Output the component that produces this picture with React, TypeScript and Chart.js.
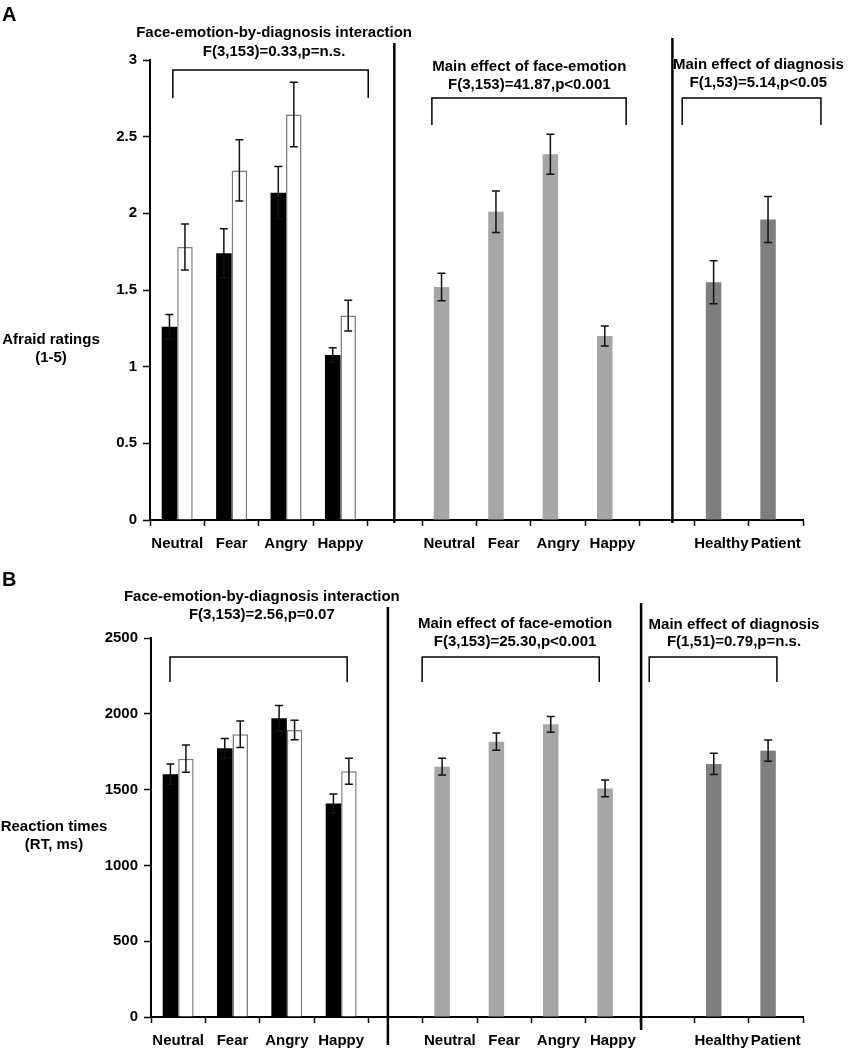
import React, { useEffect, useRef } from 'react';
import { Chart, registerables } from 'chart.js';

Chart.register(...registerables);

const FONT = '"Liberation Sans", Arial, Helvetica, sans-serif';

// ---------- shared categories ----------
const categories = ['Neutral', 'Fear', 'Angry', 'Happy', '', 'Neutral', 'Fear', 'Angry', 'Happy', '', 'Healthy', 'Patient'];

// ---------- Panel A: Afraid ratings (1-5) ----------
const yTicksA = [0, 0.5, 1, 1.5, 2, 2.5, 3];
const healthyA = [1.26, 1.74, 2.135, 1.076];
const healthyErrA = [0.08, 0.16, 0.17, 0.048];
const patientA = [1.78, 2.28, 2.645, 1.333];
const patientErrA = [0.15, 0.2, 0.21, 0.1];
const emotionA = [1.52, 2.01, 2.385, 1.2];
const emotionErrA = [0.09, 0.135, 0.13, 0.065];
const diagnosisA = [1.55, 1.96];
const diagnosisErrA = [0.14, 0.15];

// ---------- Panel B: Reaction times (RT, ms) ----------
const yTicksB = [0, 500, 1000, 1500, 2000, 2500];
const healthyB = [1601, 1772, 1970, 1409];
const healthyErrB = [68, 65, 85, 62];
const patientB = [1704, 1865, 1893, 1621];
const patientErrB = [90, 87, 64, 85];
const emotionB = [1651, 1816, 1931, 1508];
const emotionErrB = [55, 57, 52, 55];
const diagnosisB = [1669, 1757];
const diagnosisErrB = [70, 70];

const BLACK = '#000000';
const EMOTION_GRAY = '#a6a6a6';
const DIAG_GRAY = '#7f7f7f';

type Note = { lines: string[]; cx: number; y: number[] };
type Bracket = { x0: number; x1: number; top: number; bottom: number };
type Divider = { x: number; top: number; bottom: number };

type PanelSpec = {
  letter: string;
  letterY: number;
  yTitle: string[];
  yTitleX: number;
  yTitleY: number[];
  height: number;
  top: number;
  chartTop: number;
  chartBottom: number;
  left: number;
  right: number;
  yMax: number;
  yTicks: number[];
  healthy: number[];
  healthyErr: number[];
  patient: number[];
  patientErr: number[];
  emotion: number[];
  emotionErr: number[];
  diagnosis: number[];
  diagnosisErr: number[];
  notes: Note[];
  brackets: Bracket[];
  dividers: Divider[];
};

const W = 852;

const panelA: PanelSpec = {
  letter: 'A',
  letterY: 15,
  yTitle: ['Afraid ratings', '(1-5)'],
  yTitleX: 51,
  yTitleY: [340, 358],
  height: 560,
  top: 0,
  chartTop: 60,
  chartBottom: 520,
  left: 150,
  right: 803,
  yMax: 3,
  yTicks: yTicksA,
  healthy: healthyA,
  healthyErr: healthyErrA,
  patient: patientA,
  patientErr: patientErrA,
  emotion: emotionA,
  emotionErr: emotionErrA,
  diagnosis: diagnosisA,
  diagnosisErr: diagnosisErrA,
  notes: [
    { lines: ['Face-emotion-by-diagnosis interaction', 'F(3,153)=0.33,p=n.s.'], cx: 1.78, y: [33, 52] },
    { lines: ['Main effect of face-emotion', 'F(3,153)=41.87,p<0.001'], cx: 6.47, y: [67, 85] },
    { lines: ['Main effect of diagnosis', 'F(1,53)=5.14,p<0.05'], cx: 10.68, y: [65, 83] },
  ],
  brackets: [
    { x0: -0.08, x1: 3.51, top: 70, bottom: 98 },
    { x0: 4.68, x1: 8.25, top: 98, bottom: 125 },
    { x0: 9.28, x1: 11.83, top: 98, bottom: 125 },
  ],
  dividers: [
    { x: 3.99, top: 43, bottom: 523 },
    { x: 9.1, top: 38, bottom: 523 },
  ],
};

const panelB: PanelSpec = {
  letter: 'B',
  letterY: 20,
  yTitle: ['Reaction times', '(RT, ms)'],
  yTitleX: 54,
  yTitleY: [267, 285],
  height: 490,
  top: 560,
  chartTop: 78,
  chartBottom: 457,
  left: 151,
  right: 803,
  yMax: 2500,
  yTicks: yTicksB,
  healthy: healthyB,
  healthyErr: healthyErrB,
  patient: patientB,
  patientErr: patientErrB,
  emotion: emotionB,
  emotionErr: emotionErrB,
  diagnosis: diagnosisB,
  diagnosisErr: diagnosisErrB,
  notes: [
    { lines: ['Face-emotion-by-diagnosis interaction', 'F(3,153)=2.56,p=0.07'], cx: 1.54, y: [37, 55] },
    { lines: ['Main effect of face-emotion', 'F(3,153)=25.30,p<0.001'], cx: 6.2, y: [64, 82] },
    { lines: ['Main effect of diagnosis', 'F(1,51)=0.79,p=n.s.'], cx: 10.23, y: [65, 82] },
  ],
  brackets: [
    { x0: -0.15, x1: 3.11, top: 97, bottom: 122 },
    { x0: 4.49, x1: 7.75, top: 97, bottom: 122 },
    { x0: 8.67, x1: 11.02, top: 97, bottom: 122 },
  ],
  dividers: [
    { x: 3.86, top: 47, bottom: 485 },
    { x: 8.52, top: 43, bottom: 470 },
  ],
};

function Panel({ spec }: { spec: PanelSpec }) {
  const ref = useRef<HTMLCanvasElement | null>(null);

  useEffect(() => {
    const canvas = ref.current;
    if (!canvas) return;
    const pad = [null];
    const rest = new Array(categories.length - spec.patient.length).fill(null);
    const d0 = [...spec.healthy, ...pad, ...spec.emotion, ...pad, ...spec.diagnosis];
    const e0 = [...spec.healthyErr, ...pad, ...spec.emotionErr, ...pad, ...spec.diagnosisErr];
    const d1 = [...spec.patient, ...rest];
    const e1 = [...spec.patientErr, ...rest];
    const colors0 = d0.map((_, i) => (i < 4 ? BLACK : i < 10 ? EMOTION_GRAY : DIAG_GRAY));

    const errorBars = {
      id: 'errorBars',
      afterDatasetsDraw(chart: any) {
        const ctx = chart.ctx;
        const y = chart.scales.y;
        chart.data.datasets.forEach((ds: any, di: number) => {
          const meta = chart.getDatasetMeta(di);
          meta.data.forEach((el: any, i: number) => {
            const v = ds.data[i];
            const e = ds.errors[i];
            if (v == null || e == null) return;
            const x = el.x;
            const yt = y.getPixelForValue(v + e);
            const yb = y.getPixelForValue(v - e);
            ctx.save();
            ctx.strokeStyle = '#111';
            ctx.lineWidth = 1.5;
            ctx.beginPath();
            ctx.moveTo(x, yt);
            ctx.lineTo(x, yb);
            ctx.moveTo(x - 4, yt);
            ctx.lineTo(x + 4, yt);
            ctx.moveTo(x - 4, yb);
            ctx.lineTo(x + 4, yb);
            ctx.stroke();
            ctx.restore();
          });
        });
      },
    };

    const annotations = {
      id: 'annotations',
      afterDraw(chart: any) {
        const ctx = chart.ctx;
        const x = chart.scales.x;
        const cw = x.width / categories.length;
        const c0 = x.getPixelForValue(0);
        const px = (v: number) => c0 + v * cw;
        ctx.save();
        ctx.strokeStyle = '#000';
        ctx.lineWidth = 2.5;
        spec.dividers.forEach((d) => {
          ctx.beginPath();
          ctx.moveTo(px(d.x), d.top);
          ctx.lineTo(px(d.x), d.bottom);
          ctx.stroke();
        });
        ctx.lineWidth = 1.5;
        spec.brackets.forEach((b) => {
          ctx.beginPath();
          ctx.moveTo(px(b.x0), b.bottom);
          ctx.lineTo(px(b.x0), b.top);
          ctx.lineTo(px(b.x1), b.top);
          ctx.lineTo(px(b.x1), b.bottom);
          ctx.stroke();
        });
        ctx.fillStyle = '#000';
        ctx.font = `bold 15px ${FONT}`;
        ctx.textAlign = 'center';
        ctx.textBaseline = 'middle';
        spec.notes.forEach((n) => {
          n.lines.forEach((l, i) => ctx.fillText(l, px(n.cx), n.y[i]));
        });
        spec.yTitle.forEach((l, i) => ctx.fillText(l, spec.yTitleX, spec.yTitleY[i]));
        ctx.font = `bold 20px ${FONT}`;
        ctx.textAlign = 'left';
        ctx.fillText(spec.letter, 2, spec.letterY);
        ctx.restore();
      },
    };

    const chart = new Chart(canvas, {
      type: 'bar',
      data: {
        labels: categories,
        datasets: [
          {
            data: d0,
            errors: e0,
            backgroundColor: colors0,
            borderColor: colors0,
            borderWidth: 0,
            categoryPercentage: 0.57,
            barPercentage: 1,
          } as any,
          {
            data: d1,
            errors: e1,
            backgroundColor: '#ffffff',
            borderColor: '#7a7a7a',
            borderWidth: 1.5,
            categoryPercentage: 0.57,
            barPercentage: 1,
          } as any,
        ],
      },
      options: {
        responsive: false,
        animation: false,
        devicePixelRatio: 1,
        layout: {
          padding: { left: 0, right: W - spec.right, top: spec.chartTop, bottom: 0 },
        },
        plugins: {
          legend: { display: false },
          tooltip: { enabled: false },
        },
        scales: {
          x: {
            offset: true,
            grid: {
              offset: true,
              drawOnChartArea: false,
              drawTicks: true,
              tickLength: 6,
              tickColor: '#000',
              tickWidth: 1.5,
            },
            border: { display: true, color: '#000', width: 2 },
            ticks: {
              color: '#000',
              font: { family: FONT, size: 15, weight: 'bold' },
              padding: 9,
              maxRotation: 0,
              minRotation: 0,
              autoSkip: false,
            },
            afterFit(scale: any) {
              scale.height = spec.height - spec.chartBottom;
            },
          },
          y: {
            min: 0,
            max: spec.yMax,
            grid: {
              drawOnChartArea: false,
              drawTicks: true,
              tickLength: 7,
              tickColor: '#000',
              tickWidth: 1.5,
            },
            border: { display: true, color: '#000', width: 2 },
            ticks: {
              color: '#000',
              font: { family: FONT, size: 15, weight: 'bold' },
              padding: 6,
              callback: (v: any) => String(v),
            },
            afterBuildTicks(scale: any) {
              scale.ticks = spec.yTicks.map((v) => ({ value: v }));
            },
            afterFit(scale: any) {
              scale.width = spec.left;
            },
          },
        },
      } as any,
      plugins: [errorBars, annotations],
    });
    return () => chart.destroy();
  }, [spec]);

  return (
    <canvas
      ref={ref}
      width={W}
      height={spec.height}
      style={{ position: 'absolute', left: 0, top: spec.top, width: W, height: spec.height, display: 'block' }}
    />
  );
}

export default function App() {
  return (
    <div style={{ position: 'absolute', left: 0, top: 0, width: W, height: 1050, background: '#fff' }}>
      <Panel spec={panelA} />
      <Panel spec={panelB} />
    </div>
  );
}
